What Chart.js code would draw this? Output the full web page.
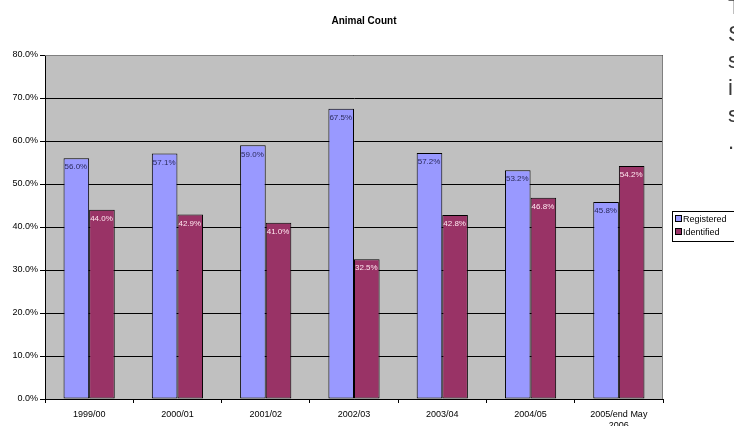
<!DOCTYPE html>
<html>
<head>
<meta charset="utf-8">
<title>Animal Count</title>
<script src="https://cdn.jsdelivr.net/npm/chart.js@4"></script>
<style>
  html, body { margin: 0; padding: 0; background: #fff; overflow: hidden; }
  #wrap { position: relative; width: 734px; height: 426px; }
  #side {
    position: absolute; left: 728px; top: -7px;
    font-family: "Liberation Sans", Arial, sans-serif;
    font-size: 22px; line-height: 27px; color: #3a3a3a;
    white-space: pre;
  }
</style>
</head>
<body>
<div id="wrap">
  <canvas id="chart" width="734" height="426"></canvas>
  <div id="side">T
S
s
i
s
.</div>
</div>
<script>
// data
const categories = ['1999/00', '2000/01', '2001/02', '2002/03', '2003/04', '2004/05', ['2005/end May', '2006']];
const registered = [56.0, 57.1, 59.0, 67.5, 57.2, 53.2, 45.8];
const identified = [44.0, 42.9, 41.0, 32.5, 42.8, 46.8, 54.2];
const yTicks = [0, 10, 20, 30, 40, 50, 60, 70, 80];

const FONT = '"Liberation Sans", Arial, sans-serif';

// plot background + frame, title, value labels and legend
const excelLook = {
  id: 'excelLook',
  beforeDraw(chart) {
    const { ctx, chartArea: a } = chart;
    ctx.save();
    ctx.fillStyle = '#c0c0c0';
    ctx.fillRect(a.left, a.top, a.right - a.left, a.bottom - a.top);
    ctx.restore();
  },
  afterDatasetsDraw(chart) {
    const { ctx, chartArea: a } = chart;
    ctx.save();
    // gray frame top/right
    ctx.strokeStyle = '#808080';
    ctx.lineWidth = 1;
    ctx.beginPath();
    ctx.moveTo(a.left, a.top + 0.5);
    ctx.lineTo(a.right - 0.5, a.top + 0.5);
    ctx.lineTo(a.right - 0.5, a.bottom);
    ctx.stroke();

    // title
    ctx.fillStyle = '#000';
    ctx.font = 'bold 10px ' + FONT;
    ctx.textAlign = 'center';
    ctx.textBaseline = 'middle';
    ctx.fillText('Animal Count', 364, 21);

    // value labels inside top of bars
    ctx.font = '8px ' + FONT;
    ctx.textAlign = 'left';
    ctx.textBaseline = 'top';
    const labelColors = ['#2b2b5c', '#ffe8f0'];
    chart.data.datasets.forEach((ds, i) => {
      chart.getDatasetMeta(i).data.forEach((bar, j) => {
        const left = bar.x - bar.width / 2;
        ctx.fillStyle = labelColors[i];
        ctx.fillText(ds.data[j].toFixed(1) + '%', left + 1, bar.y + 5);
      });
    });

    // legend box
    const lx = 672, ly = 211, lw = 70, lh = 30;
    ctx.fillStyle = '#fff';
    ctx.fillRect(lx, ly, lw, lh);
    ctx.strokeStyle = '#000';
    ctx.strokeRect(lx + 0.5, ly + 0.5, lw, lh);
    ctx.font = '9px ' + FONT;
    ctx.textBaseline = 'middle';
    chart.data.datasets.forEach((ds, i) => {
      const y = ly + 8 + i * 13;
      ctx.fillStyle = ds.backgroundColor;
      ctx.fillRect(lx + 3, y - 3, 6, 6);
      ctx.strokeStyle = '#000';
      ctx.strokeRect(lx + 3.5, y - 3.5, 6, 6);
      ctx.fillStyle = '#000';
      ctx.fillText(ds.label, lx + 11, y + 1);
    });
    ctx.restore();
  }
};

new Chart(document.getElementById('chart'), {
  type: 'bar',
  data: {
    labels: categories,
    datasets: [
      { label: 'Registered', data: registered, backgroundColor: '#9999ff', borderColor: '#000', borderWidth: 1, borderSkipped: false },
      { label: 'Identified', data: identified, backgroundColor: '#993366', borderColor: '#000', borderWidth: 1, borderSkipped: false }
    ]
  },
  options: {
    responsive: false,
    animation: false,
    layout: { padding: { left: 0, top: 55, right: 71, bottom: 0 } },
    datasets: { bar: { categoryPercentage: 0.58, barPercentage: 1.0 } },
    plugins: {
      legend: { display: false },
      title: { display: false },
      tooltip: { enabled: false }
    },
    scales: {
      x: {
        offset: true,
        grid: { offset: true, drawOnChartArea: false, color: '#000', tickLength: 4 },
        border: { color: '#000' },
        ticks: { color: '#000', font: { family: FONT, size: 9 }, maxRotation: 0, padding: 6 },
        afterFit(scale) { scale.height = 27; }
      },
      y: {
        min: 0,
        max: 80,
        afterBuildTicks(scale) { scale.ticks = yTicks.map(v => ({ value: v })); },
        grid: { color: '#000', tickLength: 5 },
        border: { color: '#000' },
        ticks: {
          color: '#000',
          font: { family: FONT, size: 9 },
          padding: 2,
          callback: v => v.toFixed(1) + '%'
        },
        afterFit(scale) { scale.width = 45; }
      }
    }
  },
  plugins: [excelLook]
});
</script>
</body>
</html>
